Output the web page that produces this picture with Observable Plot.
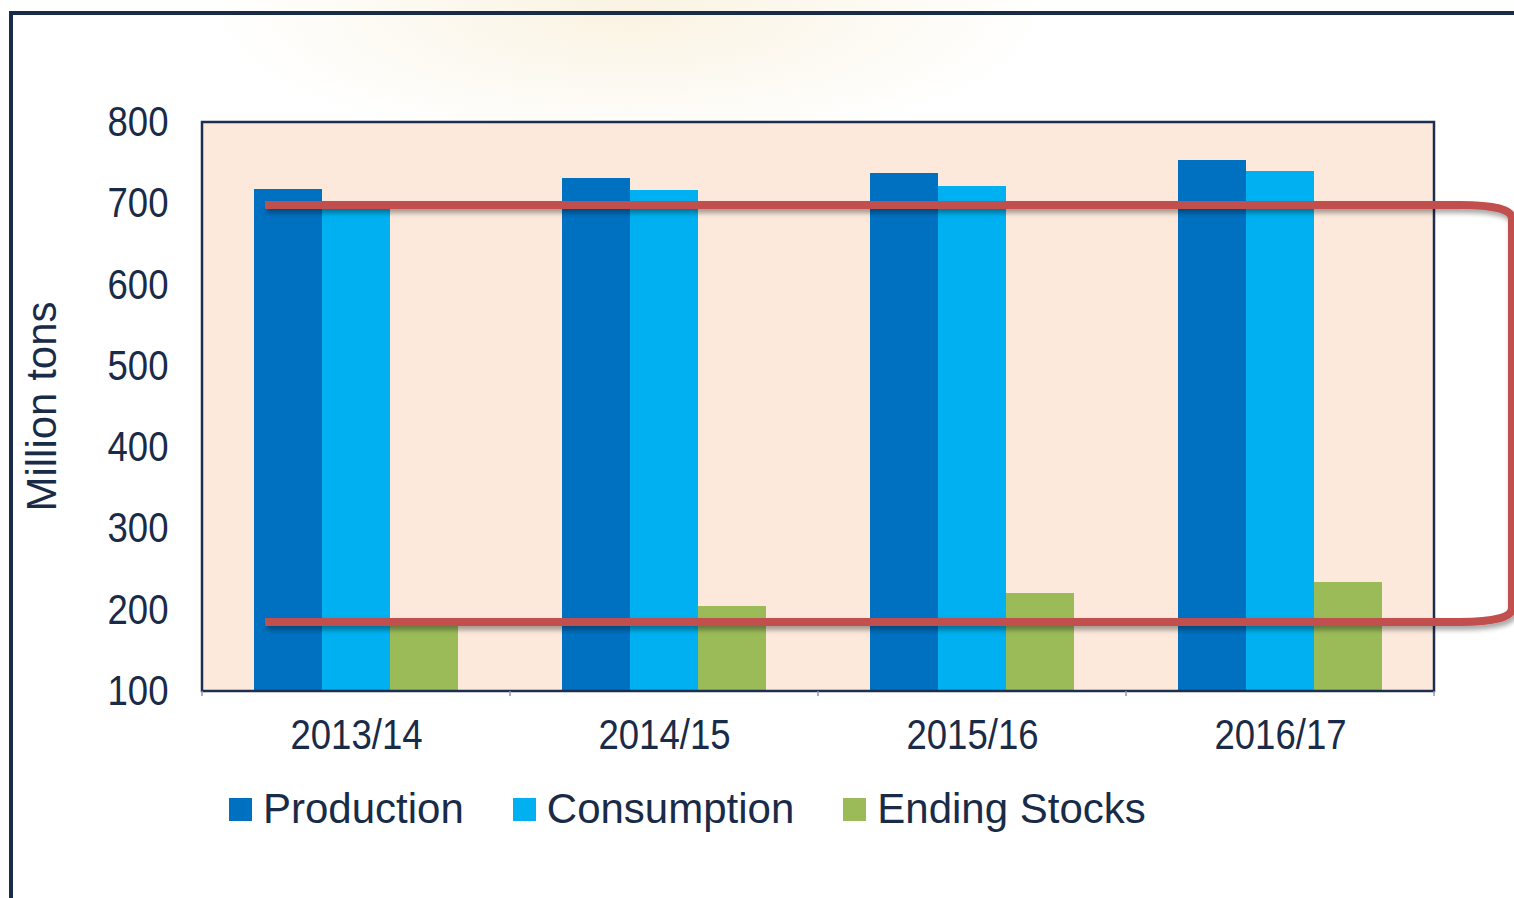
<!DOCTYPE html>
<html>
<head>
<meta charset="utf-8">
<script src="https://cdn.jsdelivr.net/npm/d3@7"></script>
<script src="https://cdn.jsdelivr.net/npm/@observablehq/plot@0.6"></script>
<style>
  html, body { margin: 0; padding: 0; }
  body { width: 1514px; height: 898px; overflow: hidden; position: relative; background: #ffffff;
         font-family: "Liberation Sans", Arial, sans-serif; color: #1a2b48; }
  #bg { position: absolute; left: 0; top: 0; width: 1514px; height: 898px;
        background: radial-gradient(ellipse 420px 140px at 630px 10px, rgba(238,212,150,0.28), rgba(255,255,255,0) 100%); }
  #outer { position: absolute; left: 9px; top: 11px; width: 1600px; height: 1000px; border: 4px solid #182c4a; box-sizing: border-box; }
  #chart { position: absolute; left: 0; top: 0; }
  #legend { position: absolute; left: 229px; top: 788px; height: 42px; display: flex; align-items: center;
            font-size: 42px; line-height: 42px; color: #1a2b48; white-space: nowrap; }
  .item { display: flex; align-items: center; margin-right: 49px; }
  .sw { width: 23px; height: 23px; margin-right: 11px; }
</style>
</head>
<body>
<div id="bg"></div>
<div id="outer"></div>
<div id="chart"></div>
<div id="legend"></div>
<script>
// ---- data ----
const years = ["2013/14", "2014/15", "2015/16", "2016/17"];
const series = ["Production", "Consumption", "Ending Stocks"];
const production = [717, 731, 737, 753];
const consumption = [698, 716, 721, 740];
const endingStocks = [185, 205, 221, 234];
const yTicks = [100, 200, 300, 400, 500, 600, 700, 800];
const yLabel = "Million tons";
const bracketLevels = [698, 185]; // red annotation lines (top, bottom)
const seriesColors = ["#0070C0", "#00B0F0", "#9BBB59"];

const yMin = yTicks[0], yMax = yTicks[yTicks.length - 1];
const values = [production, consumption, endingStocks];
const data = years.flatMap((year, i) => series.map((s, j) => ({year, series: s, value: values[j][i]})));

const plot = Plot.plot({
  width: 1514,
  height: 770,
  marginTop: 122,
  marginBottom: 79,
  marginLeft: 202,
  marginRight: 80,
  style: {fontFamily: "'Liberation Sans', Arial, sans-serif", fontSize: "42px", color: "#1a2b48", background: "transparent", overflow: "visible"},
  fx: {domain: years, padding: 0, label: null, axis: "bottom", tickSize: 0, tickPadding: 28},
  x: {domain: series, paddingInner: 0, paddingOuter: 0.74, axis: null},
  y: {domain: [yMin, yMax], ticks: yTicks, tickSize: 0, tickPadding: 34, label: null},
  color: {domain: series, range: seriesColors},
  marks: [
    Plot.frame({fill: "#FCE9DB", stroke: null, shapeRendering: "crispEdges"}),
    Plot.barY(data, {fx: "year", x: "series", y1: yMin, y2: "value", fill: "series", shapeRendering: "crispEdges"})
  ]
});
document.getElementById("chart").appendChild(plot);

// squeeze axis tick labels horizontally like the original
plot.querySelectorAll('[aria-label$="tick label"] text').forEach(t => {
  t.setAttribute("transform", (t.getAttribute("transform") || "") + " scale(0.87,1)");
});

const svg = d3.select(plot);
const yS = plot.scale("y");
const fxS = plot.scale("fx");
const x0 = fxS.range[0], x1 = fxS.range[1];
const yTop = yS.apply(yMax), yBot = yS.apply(yMin);

// plot-area border
svg.append("rect").attr("x", x0).attr("y", yTop).attr("width", x1 - x0).attr("height", yBot - yTop)
  .attr("fill", "none").attr("stroke", "#1c2f50").attr("stroke-width", 2.5);

// category separator ticks
years.concat([null]).forEach((yr) => {
  const xx = yr === null ? x1 : fxS.apply(yr);
  svg.append("line").attr("x1", xx).attr("x2", xx).attr("y1", yBot).attr("y2", yBot + 5)
    .attr("stroke", "#8a9ab5").attr("stroke-width", 1.5);
});

// y label
svg.append("text").attr("transform", `translate(56,${(yTop + yBot) / 2}) rotate(-90)`)
  .attr("text-anchor", "middle").attr("fill", "#1a2b48").style("font-size", "42px").text(yLabel);

// red bracket annotation
const defs = svg.append("defs");
const f = defs.append("filter").attr("id", "sh").attr("x", "-5%").attr("y", "-50%").attr("width", "110%").attr("height", "200%");
f.append("feDropShadow").attr("dx", 2).attr("dy", 4).attr("stdDeviation", 2.5).attr("flood-color", "#000").attr("flood-opacity", 0.35);
const bTop = yS.apply(bracketLevels[0]), bBot = yS.apply(bracketLevels[1]);
const bx0 = fxS.apply(years[0]) + 63, bxC = x1 + 26, bxE = x1 + 78, r = 14;
const path = `M${bx0},${bTop} H${bxC} Q${bxE},${bTop} ${bxE},${bTop + r} V${bBot - r} Q${bxE},${bBot} ${bxC},${bBot} H${bx0}`;
svg.append("path").attr("d", path).attr("fill", "none").attr("stroke", "#C0504D").attr("stroke-width", 8)
  .attr("filter", "url(#sh)");

// legend
const legend = document.getElementById("legend");
series.forEach((s, i) => {
  const item = document.createElement("div");
  item.className = "item";
  const sw = document.createElement("div");
  sw.className = "sw";
  sw.style.background = seriesColors[i];
  const label = document.createElement("span");
  label.textContent = s;
  item.appendChild(sw); item.appendChild(label);
  legend.appendChild(item);
});
</script>
</body>
</html>
